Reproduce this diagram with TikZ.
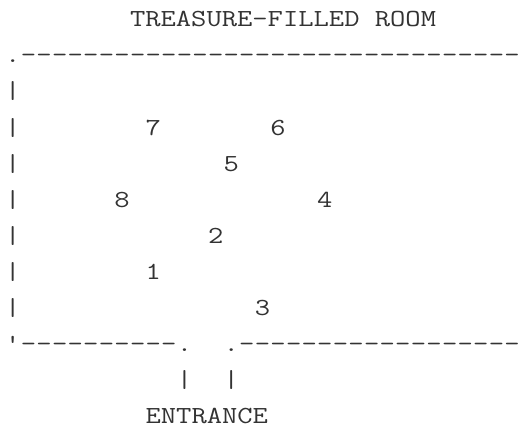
\documentclass[tikz,border=0pt]{standalone}
\usepackage{fontspec}
\usepackage{graphicx}
\begin{document}
\begin{tikzpicture}[x=1pt,y=1pt,
  art/.style={inner sep=0pt,outer sep=0pt,anchor=base west,font=\ttfamily\fontsize{24.5}{30}\selectfont,text=black!80}]
\def\cw{15.6}
\def\lh{36}
\newcommand{\wtxt}[1]{\scalebox{1.213}[1]{#1}}
\useasboundingbox[fill=white] (0,0) rectangle (525,-428);
\node[art] (title) at ({5.2+\cw*8},{-(27+\lh*0)}) {\wtxt{TREASURE-FILLED ROOM}};
% top wall
\node[art] (topdot) at ({5.2+\cw*0},{-(27+\lh*1)}) {\wtxt{.}};
\foreach \c in {1,...,32}{
  \node[art] (top\c) at ({5.2+\cw*\c},{-(27+\lh*1)}) {\wtxt{-}};
}
% left wall
\foreach \r in {2,...,8}{
  \node[art] (wall\r) at ({5.2+\cw*0},{-(27+\lh*\r)}) {\wtxt{|}};
}
\node[art] (n7) at ({5.2+\cw*9},{-(27+\lh*3)}) {\wtxt{7}};
\node[art] (n6) at ({5.2+\cw*17},{-(27+\lh*3)}) {\wtxt{6}};
\node[art] (n5) at ({5.2+\cw*14},{-(27+\lh*4)}) {\wtxt{5}};
\node[art] (n8) at ({5.2+\cw*7},{-(27+\lh*5)}) {\wtxt{8}};
\node[art] (n4) at ({5.2+\cw*20},{-(27+\lh*5)}) {\wtxt{4}};
\node[art] (n2) at ({5.2+\cw*13},{-(27+\lh*6)}) {\wtxt{2}};
\node[art] (n1) at ({5.2+\cw*9},{-(27+\lh*7)}) {\wtxt{1}};
\node[art] (n3) at ({5.2+\cw*16},{-(27+\lh*8)}) {\wtxt{3}};
% bottom wall
\node[art] (botq) at ({5.2+\cw*0},{-(27+\lh*9)}) {\wtxt{'}};
\foreach \c in {1,...,10,15,16,...,32}{
  \node[art] (bot\c) at ({5.2+\cw*\c},{-(27+\lh*9)}) {\wtxt{-}};
}
\node[art] (botdotL) at ({5.2+\cw*11},{-(27+\lh*9)}) {\wtxt{.}};
\node[art] (botdotR) at ({5.2+\cw*14},{-(27+\lh*9)}) {\wtxt{.}};
\node[art] (doorL) at ({5.2+\cw*11},{-(27+\lh*10)}) {\wtxt{|}};
\node[art] (doorR) at ({5.2+\cw*14},{-(27+\lh*10)}) {\wtxt{|}};
\node[art] (entrance) at ({5.2+\cw*9},{-(27+\lh*11)}) {\wtxt{ENTRANCE}};
\end{tikzpicture}
\end{document}
